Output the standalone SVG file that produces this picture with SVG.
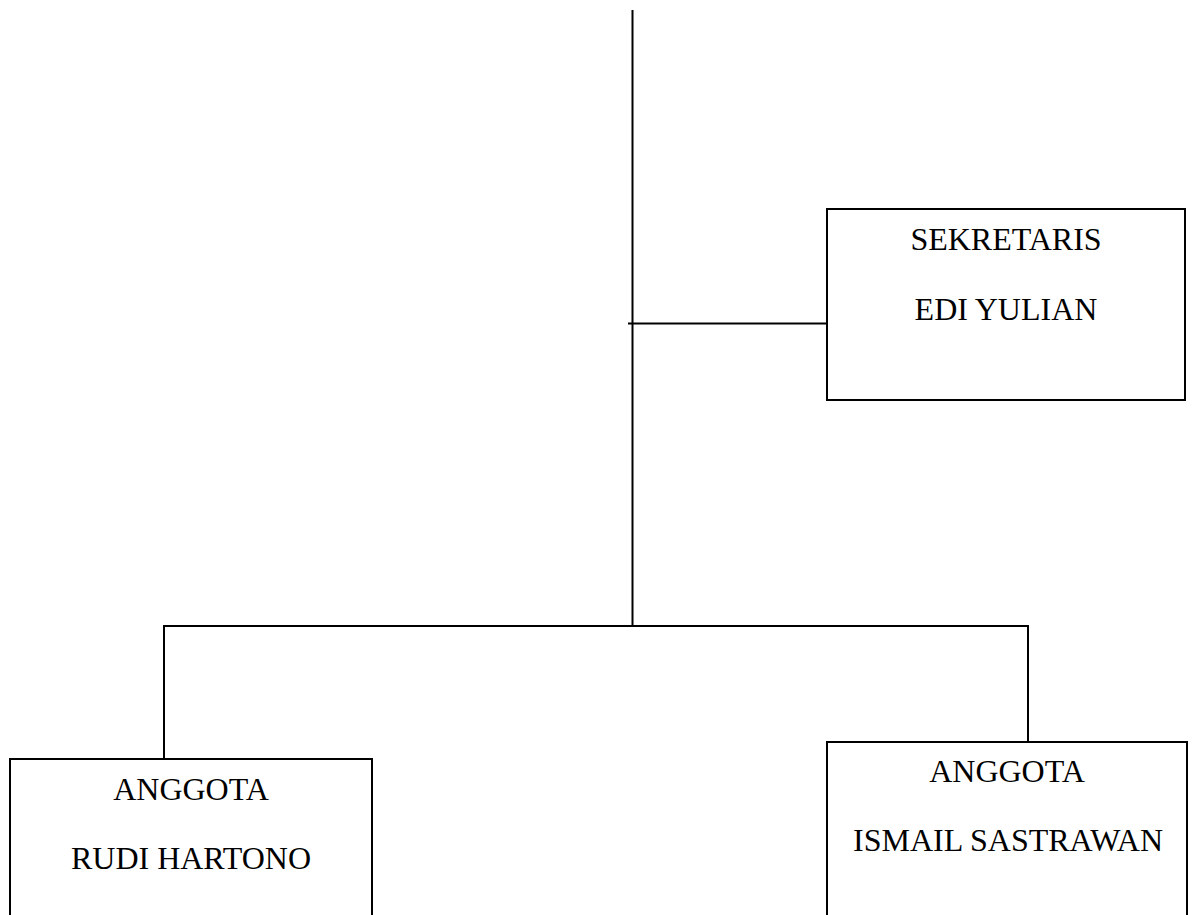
<svg xmlns="http://www.w3.org/2000/svg" width="1193" height="915" viewBox="0 0 1193 915">
<style>
.box{fill:#fff;stroke:#000;stroke-width:2}
.ln{fill:none;stroke:#000;stroke-width:2}
text{font-family:"Liberation Serif","Times New Roman",serif;font-size:32px;fill:#000;text-anchor:middle}
</style>
<rect width="1193" height="915" fill="#fff"/>
<g id="connectors">
<line class="ln" x1="632.5" y1="10" x2="632.5" y2="626"/>
<line class="ln" x1="628" y1="323.5" x2="827" y2="323.5"/>
<polyline class="ln" points="164,759 164,626 1028,626 1028,742"/>
</g>
<g id="sekretaris">
<rect class="box" x="827" y="209" width="358" height="191"/>
<text x="1006" y="250">SEKRETARIS</text>
<text x="1006" y="320">EDI YULIAN</text>
</g>
<g id="anggota-rudi">
<rect class="box" x="10" y="759" width="362" height="180"/>
<text x="191" y="800">ANGGOTA</text>
<text x="191" y="869">RUDI HARTONO</text>
</g>
<g id="anggota-ismail">
<rect class="box" x="827" y="742" width="360" height="200"/>
<text x="1007" y="782">ANGGOTA</text>
<text x="1008" y="851">ISMAIL SASTRAWAN</text>
</g>
</svg>
